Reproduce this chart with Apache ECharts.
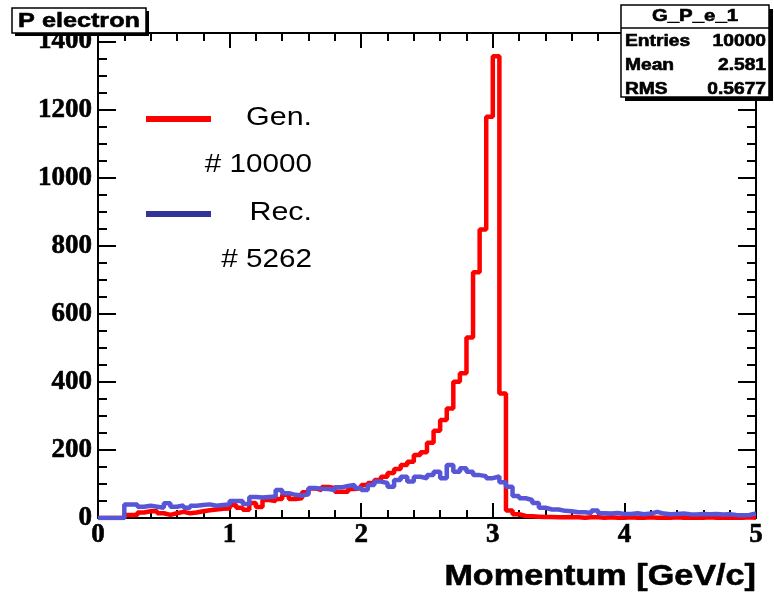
<!DOCTYPE html>
<html>
<head>
<meta charset="utf-8">
<script src="https://cdn.jsdelivr.net/npm/echarts@6/dist/echarts.min.js"></script>
<style>
  html, body { margin: 0; padding: 0; background: #fff; }
  #chart { width: 774px; height: 596px; }
</style>
</head>
<body>
<div id="chart"></div>
<script>
// Binning of the momentum histograms
const xMin = 0;
const xMax = 5;
const nBins = 100;
const yMax = 1425;

// Generated electrons: counts per 0.05 GeV/c bin
const genCounts = [
  0, 0, 0, 0, 9, 9, 16, 20, 20, 14, 9, 14, 18, 14, 16, 20, 23, 25, 27, 28,
  38, 30, 24, 44, 32, 53, 50, 56, 68, 56, 58, 76, 87, 82, 91, 88, 77, 77, 85, 88,
  97, 103, 112, 121, 132, 144, 156, 165, 185, 193, 221, 256, 288, 322, 400, 425, 530, 722, 848, 1179,
  1357, 366, 22, 11, 6, 5, 4, 3, 3, 2, 2, 3, 2, 1, 2, 2, 1, 2, 1, 1,
  2, 1, 1, 2, 1, 1, 1, 2, 1, 1, 1, 1, 2, 1, 1, 1, 1, 1, 2, 1
];

// Reconstructed electrons: counts per 0.05 GeV/c bin
const recCounts = [
  0, 0, 0, 0, 40, 40, 33, 36, 33, 30, 43, 33, 37, 30, 36, 38, 40, 36, 38, 40,
  50, 50, 41, 62, 60, 62, 63, 82, 73, 68, 66, 70, 88, 86, 85, 82, 90, 94, 97, 88,
  82, 97, 107, 103, 92, 112, 121, 107, 121, 117, 126, 136, 117, 156, 136, 146, 136, 126, 123, 117,
  122, 105, 92, 65, 58, 53, 44, 30, 25, 25, 21, 20, 17, 17, 15, 22, 14, 13, 15, 12,
  12, 14, 11, 13, 18, 13, 11, 12, 13, 11, 10, 12, 11, 12, 10, 11, 9, 8, 9, 13
];

// Texts of the title, statistics box and legend
const plotTitle = 'P electron';
const histName = 'G_P_e_1';
const statLabels = ['Entries', 'Mean', 'RMS'];
const statValues = ['10000', '2.581', '0.5677'];
const legendLabels = ['Gen.', 'Rec.'];
const legendEntries = ['# 10000', '# 5262'];
const xTitle = 'Momentum [GeV/c]';

const genColor = '#ff0000';
const recColor = '#5656d6';
const recLegendColor = '#333399';

// Turn bin contents into step-outline points (left bin edges + closing edge)
function histPoints(counts) {
  const w = (xMax - xMin) / nBins;
  const pts = counts.map((c, i) => [xMin + i * w, c]);
  pts.push([xMax, counts[counts.length - 1]]);
  return pts;
}

const black = '#000';

// Bold text slightly thickened with an outline of the same colour
function boldText(text, x, y, size, align, scaleX) {
  return {
    type: 'text', x, y, scaleX, z: 12,
    style: {
      text, font: 'bold ' + size + 'px "Liberation Sans"', textAlign: align,
      textVerticalAlign: 'middle', fill: black, stroke: black, lineWidth: 0.6
    }
  };
}

function yAxisDef(position, interval, tickLen, withLine, withLabels) {
  return {
    type: 'value', position, min: 0, max: yMax, interval,
    splitLine: { show: false },
    axisLine: { show: withLine, onZero: false, lineStyle: { color: black, width: 2 } },
    axisTick: { show: true, inside: true, length: tickLen, lineStyle: { color: black, width: 2 } },
    axisLabel: withLabels ? {
      show: true, color: black, fontFamily: 'Liberation Serif', fontWeight: 'bold',
      fontSize: 27, margin: 6, showMaxLabel: false,
      textBorderColor: black, textBorderWidth: 0.6,
      formatter: v => (v % 200 === 0 ? String(v) : '')
    } : { show: false }
  };
}

function xAxisDef(position, withLabels) {
  return {
    type: 'value', position, min: xMin, max: xMax, interval: 1,
    splitLine: { show: false },
    axisLine: { show: true, onZero: false, lineStyle: { color: black, width: 2 } },
    axisTick: { show: true, inside: true, length: 15, lineStyle: { color: black, width: 2 } },
    minorTick: { show: true, splitNumber: 5, length: 8, lineStyle: { color: black, width: 2 } },
    minorSplitLine: { show: false },
    axisLabel: withLabels ? {
      show: true, color: black, fontFamily: 'Liberation Serif', fontWeight: 'bold',
      fontSize: 27, margin: 4, textBorderColor: black, textBorderWidth: 0.6
    } : { show: false }
  };
}

// Statistics box rows
const statRowY = [42, 66, 90];
const statGraphics = [];
statLabels.forEach((lab, i) => {
  statGraphics.push(boldText(lab, 625, statRowY[i], 16, 'left', 1.2));
  statGraphics.push(boldText(statValues[i], 766, statRowY[i], 16, 'right', 1.2));
});

// Legend block
const legendColors = [genColor, recLegendColor];
const legendRowY = [119, 214];
const legendGraphics = [];
legendLabels.forEach((lab, i) => {
  const y = legendRowY[i];
  legendGraphics.push({
    type: 'line', z: 12, shape: { x1: 146, y1: y, x2: 211, y2: y },
    style: { stroke: legendColors[i], lineWidth: 6 }
  });
  legendGraphics.push({
    type: 'text', x: 312, y: y - 1, scaleX: 1.17, z: 12,
    style: { text: lab, font: '26px "Liberation Sans"', textAlign: 'right', textVerticalAlign: 'middle', fill: black }
  });
  legendGraphics.push({
    type: 'text', x: 312, y: y + 46, scaleX: 1.14, z: 12,
    style: { text: legendEntries[i], font: '26px "Liberation Sans"', textAlign: 'right', textVerticalAlign: 'middle', fill: black }
  });
});

const chart = echarts.init(document.getElementById('chart'), null, { renderer: 'canvas' });

chart.setOption({
  animation: false,
  backgroundColor: '#fff',
  grid: { left: 98, right: 18, top: 33, bottom: 78, containLabel: false },
  xAxis: [xAxisDef('bottom', true), xAxisDef('top', false)],
  yAxis: [
    yAxisDef('left', 200, 18, true, true),
    yAxisDef('left', 50, 9, false, false),
    yAxisDef('right', 200, 18, true, false),
    yAxisDef('right', 50, 9, false, false)
  ],
  series: [
    {
      name: legendLabels[0], type: 'line', step: 'end', xAxisIndex: 0, yAxisIndex: 0,
      data: histPoints(genCounts), showSymbol: false, clip: true,
      lineStyle: { color: genColor, width: 4.5 }, z: 3
    },
    {
      name: legendLabels[1], type: 'line', step: 'end', xAxisIndex: 0, yAxisIndex: 0,
      data: histPoints(recCounts), showSymbol: false, clip: true,
      lineStyle: { color: recColor, width: 4.5 }, z: 4
    }
  ],
  graphic: [
    // Title box with drop shadow
    { type: 'rect', shape: { x: 15, y: 11, width: 134, height: 25 }, style: { fill: black }, z: 10 },
    { type: 'rect', shape: { x: 12, y: 8, width: 134, height: 25 }, style: { fill: '#fff', stroke: black, lineWidth: 1.5 }, z: 11 },
    boldText(plotTitle, 79, 21, 21, 'center', 1.2),
    // Statistics box with drop shadow
    { type: 'rect', shape: { x: 625, y: 9, width: 148, height: 92 }, style: { fill: black }, z: 10 },
    { type: 'rect', shape: { x: 621, y: 5, width: 148, height: 92 }, style: { fill: '#fff', stroke: black, lineWidth: 1.5 }, z: 11 },
    { type: 'line', shape: { x1: 621, y1: 28, x2: 769, y2: 28 }, style: { stroke: black, lineWidth: 1.5 }, z: 12 },
    boldText(histName, 695, 16, 17, 'center', 1.2),
    ...statGraphics,
    ...legendGraphics,
    // Axis title
    boldText(xTitle, 756, 577, 30, 'right', 1.14)
  ]
});
</script>
</body>
</html>
